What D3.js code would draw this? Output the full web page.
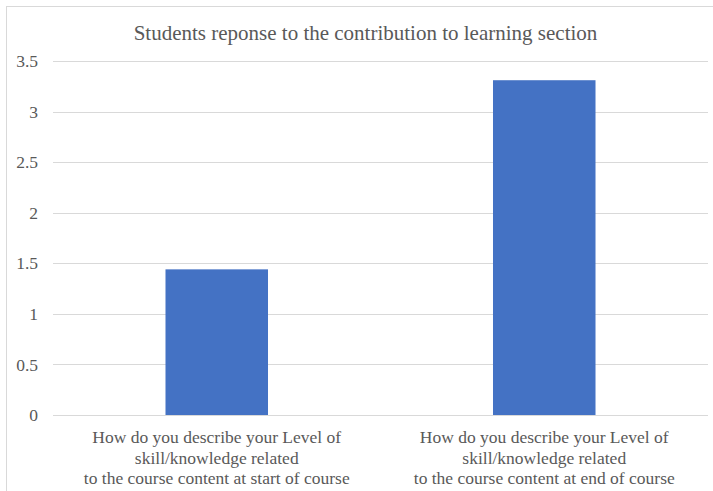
<!DOCTYPE html>
<html>
<head>
<meta charset="utf-8">
<script src="https://cdn.jsdelivr.net/npm/d3@7"></script>
</head>
<body style="margin:0">
<svg id="chart" width="713" height="491"></svg>
<script>
// Chart data
const title = "Students reponse to the contribution to learning section";
const categories = [
  ["How do you describe your Level of", "skill/knowledge related", "to the course content at start of course"],
  ["How do you describe your Level of", "skill/knowledge related", "to the course content at end of course"]
];
const values = [1.44, 3.31];
const yTicks = [0, 0.5, 1, 1.5, 2, 2.5, 3, 3.5];

const FONT = "'Liberation Serif', serif";
const TEXT_COLOR = "#595959";

const svg = d3.select("#chart");
const W = 713, H = 491;
const plot = { left: 53, right: 708, top: 61, bottom: 415 };

// Outer chart frame
svg.append("rect")
  .attr("x", 6.5).attr("y", 6.5)
  .attr("width", W + 10).attr("height", H + 10)
  .attr("fill", "#fff").attr("stroke", "#d9d9d9").attr("stroke-width", 1);

const x = d3.scaleBand()
  .domain(d3.range(categories.length))
  .range([plot.left, plot.right])
  .paddingInner(0.687)
  .paddingOuter(0.3435);

const y = d3.scaleLinear().domain([0, 3.5]).range([plot.bottom, plot.top]);

// Horizontal gridlines
svg.append("g")
  .selectAll("line")
  .data(yTicks)
  .join("line")
  .attr("x1", plot.left).attr("x2", plot.right)
  .attr("y1", d => Math.round(y(d)) + 0.5).attr("y2", d => Math.round(y(d)) + 0.5)
  .attr("stroke", "#d9d9d9").attr("stroke-width", 1);

// Y axis labels at the scale's tick positions
svg.append("g")
  .selectAll("text")
  .data(yTicks)
  .join("text")
  .attr("x", plot.left - 15)
  .attr("y", d => y(d))
  .attr("dy", "0.35em")
  .attr("text-anchor", "end")
  .style("font-family", FONT)
  .style("font-size", "17.5px")
  .style("fill", TEXT_COLOR)
  .text(d => String(d));

// Bars
svg.append("g")
  .selectAll("rect")
  .data(values)
  .join("rect")
  .attr("x", (d, i) => x(i))
  .attr("width", x.bandwidth())
  .attr("y", d => y(d))
  .attr("height", d => y(0) - y(d))
  .attr("fill", "#4472C4");

// Category labels (three lines each)
const flat = [];
categories.forEach((lines, i) => lines.forEach((ln, j) => flat.push({ i, j, ln })));
svg.append("g")
  .selectAll("text")
  .data(flat)
  .join("text")
  .attr("x", d => x(d.i) + x.bandwidth() / 2)
  .attr("y", d => 443 + d.j * 20.5)
  .attr("text-anchor", "middle")
  .style("font-family", FONT)
  .style("font-size", "17.5px")
  .style("fill", TEXT_COLOR)
  .text(d => d.ln);

// Title
svg.append("text")
  .attr("x", 365.5)
  .attr("y", 39.5)
  .attr("text-anchor", "middle")
  .style("font-family", FONT)
  .style("font-size", "21px")
  .style("fill", TEXT_COLOR)
  .text(title);
</script>
</body>
</html>
